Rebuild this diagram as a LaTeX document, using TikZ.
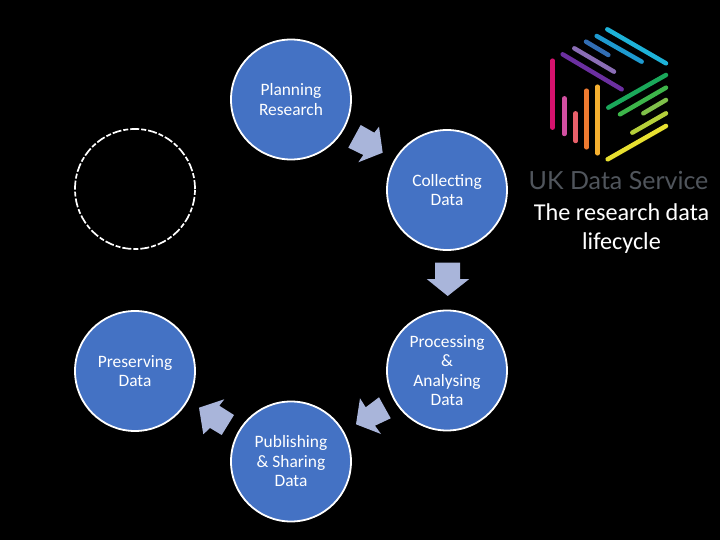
\documentclass[tikz,border=0pt]{standalone}
\usepackage{fontspec}
\setmainfont{Carlito}
\newfontfamily\logofont{Lato}
\definecolor{stagecirc}{HTML}{4472C4}
\definecolor{blockarrow}{HTML}{A9B5DA}
\definecolor{logogrey}{HTML}{50555C}
\tikzset{
  stage/.style={circle,minimum size=120pt,inner sep=0pt,fill=stagecirc,draw=white,line width=1.8pt,text=white,align=center,font=\fontsize{17.4pt}{19.5pt}\selectfont},
  ghost/.style={circle,minimum size=120pt,inner sep=0pt,draw=white,line width=1.7pt,dash pattern=on 9pt off 2pt on 5pt off 2pt},
  blockarr/.style={fill=blockarrow,draw=none},
  logoline/.style={line width=4.5pt,line cap=round},
  caption/.style={text=white,align=center,font=\fontsize{24.2pt}{29pt}\selectfont}
}
\begin{document}
\begin{tikzpicture}[x=1pt,y=-1pt]
\fill[black] (0,0) rectangle (720,540);
\useasboundingbox (0,0) rectangle (720,540);
\node[stage] (plan) at (291,99.5) {Planning\\Research};
\node[stage] (coll) at (447,190) {Collecting\\Data};
\node[stage] (proc) at (447,370.5) {Processing\\\&\\Analysing\\Data};
\node[stage] (publ) at (291,461.5) {Publishing\\\& Sharing\\Data};
\node[stage] (pres) at (135,371) {Preserving\\Data};
\node[ghost] (reuse) at (135,189) {};
% block arrows
\fill[blockarr] (360.7,125) -- (374.3,132.7) -- (379,126.7) -- (382.7,152.7) -- (358.3,162.3) -- (363.3,155) -- (348.3,147.7) -- cycle;
\fill[blockarr] (435,262.7) -- (460,262.7) -- (460,279) -- (469.3,279) -- (447.7,296) -- (426.7,279) -- (435,279) -- cycle;
\fill[blockarr] (379,397.3) -- (390.7,418.3) -- (375,425.7) -- (381,434) -- (356,424.3) -- (360,398.3) -- (365.7,407.3) -- cycle;
\fill[blockarr] (234,415) -- (221.7,435) -- (210,428) -- (203.3,434.3) -- (199,407.7) -- (224.3,399.3) -- (219.3,405.7) -- cycle;
% logo
\begin{scope}[shift={(520,20)},x=0.3333pt,y=-0.3333pt]
\draw[logoline,color={rgb,255:red,30;green,178;blue,216}] (262,28) -- (438,130);
\draw[logoline,color={rgb,255:red,30;green,154;blue,208}] (230,48) -- (365,125);
\draw[logoline,color={rgb,255:red,50;green,110;blue,180}] (198,65) -- (265,105);
\draw[logoline,color={rgb,255:red,138;green,109;blue,181}] (163,85) -- (282,155);
\draw[logoline,color={rgb,255:red,107;green,47;blue,160}] (128,103) -- (305,208);
\draw[logoline,color={rgb,255:red,26;green,168;blue,90}] (438,165) -- (265,263);
\draw[logoline,color={rgb,255:red,61;green,181;blue,74}] (438,203) -- (300,283);
\draw[logoline,color={rgb,255:red,127;green,192;blue,74}] (438,240) -- (370,280);
\draw[logoline,color={rgb,255:red,181;green,207;blue,58}] (438,280) -- (337,338);
\draw[logoline,color={rgb,255:red,232;green,224;blue,48}] (438,318) -- (263,418);
\draw[logoline,color={rgb,255:red,214;green,18;blue,110}] (98,122) -- (98,323);
\draw[logoline,color={rgb,255:red,209;green,79;blue,160}] (133,235) -- (133,342);
\draw[logoline,color={rgb,255:red,232;green,96;blue,106}] (167,280) -- (167,363);
\draw[logoline,color={rgb,255:red,238;green,122;blue,48}] (200,212) -- (200,382);
\draw[logoline,color={rgb,255:red,245;green,176;blue,48}] (233,200) -- (233,400);
\end{scope}
\node[text=logogrey,inner sep=0pt,font=\logofont\fontsize{25pt}{30pt}\selectfont] (brand) at (618.5,180) {UK Data Service};
\node[caption] (title) at (621.5,229) {The research data\\lifecycle};
\end{tikzpicture}
\end{document}
